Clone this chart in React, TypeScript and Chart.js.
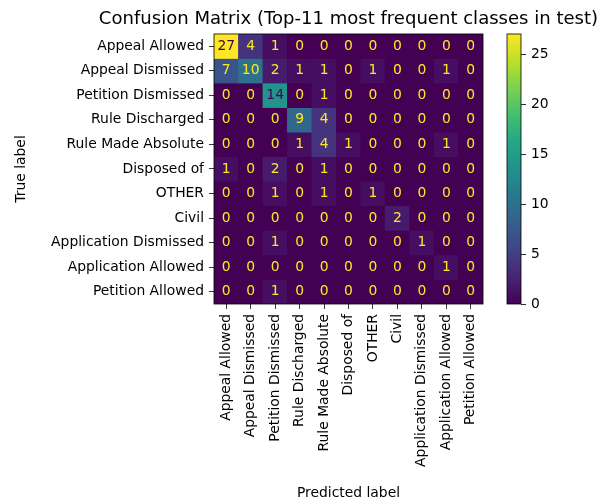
import React, { useEffect, useRef } from "react";
import { Chart, registerables } from "chart.js";

Chart.register(...registerables);

const TITLE = "Confusion Matrix (Top-11 most frequent classes in test)";
const X_TITLE = "Predicted label";
const Y_TITLE = "True label";

const CLASSES = [
  "Appeal Allowed",
  "Appeal Dismissed",
  "Petition Dismissed",
  "Rule Discharged",
  "Rule Made Absolute",
  "Disposed of",
  "OTHER",
  "Civil",
  "Application Dismissed",
  "Application Allowed",
  "Petition Allowed",
];

const ROW_APPEAL_ALLOWED = [27, 4, 1, 0, 0, 0, 0, 0, 0, 0, 0];
const ROW_APPEAL_DISMISSED = [7, 10, 2, 1, 1, 0, 1, 0, 0, 1, 0];
const ROW_PETITION_DISMISSED = [0, 0, 14, 0, 1, 0, 0, 0, 0, 0, 0];
const ROW_RULE_DISCHARGED = [0, 0, 0, 9, 4, 0, 0, 0, 0, 0, 0];
const ROW_RULE_MADE_ABSOLUTE = [0, 0, 0, 1, 4, 1, 0, 0, 0, 1, 0];
const ROW_DISPOSED_OF = [1, 0, 2, 0, 1, 0, 0, 0, 0, 0, 0];
const ROW_OTHER = [0, 0, 1, 0, 1, 0, 1, 0, 0, 0, 0];
const ROW_CIVIL = [0, 0, 0, 0, 0, 0, 0, 2, 0, 0, 0];
const ROW_APPLICATION_DISMISSED = [0, 0, 1, 0, 0, 0, 0, 0, 1, 0, 0];
const ROW_APPLICATION_ALLOWED = [0, 0, 0, 0, 0, 0, 0, 0, 0, 1, 0];
const ROW_PETITION_ALLOWED = [0, 0, 1, 0, 0, 0, 0, 0, 0, 0, 0];

const MATRIX = [
  ROW_APPEAL_ALLOWED,
  ROW_APPEAL_DISMISSED,
  ROW_PETITION_DISMISSED,
  ROW_RULE_DISCHARGED,
  ROW_RULE_MADE_ABSOLUTE,
  ROW_DISPOSED_OF,
  ROW_OTHER,
  ROW_CIVIL,
  ROW_APPLICATION_DISMISSED,
  ROW_APPLICATION_ALLOWED,
  ROW_PETITION_ALLOWED,
];

const VMIN = 0;
const VMAX = 27;
const COLORBAR_TICKS = [0, 5, 10, 15, 20, 25];

const VIRIDIS = [
  "#440154", "#482475", "#414487", "#355f8d", "#2a788e", "#21918c",
  "#22a884", "#44bf70", "#7ad151", "#bddf26", "#fde725",
];

const FONT = "DejaVu Sans";
const FS = 13.89;
const TITLE_FS = 18.06;

function hexToRgb(h: string) {
  const n = parseInt(h.slice(1), 16);
  return [(n >> 16) & 255, (n >> 8) & 255, n & 255];
}

function viridis(t: number) {
  const tt = Math.max(0, Math.min(1, t));
  const pos = tt * (VIRIDIS.length - 1);
  const i = Math.min(VIRIDIS.length - 2, Math.floor(pos));
  const f = pos - i;
  const a = hexToRgb(VIRIDIS[i]);
  const b = hexToRgb(VIRIDIS[i + 1]);
  const c = a.map((v, k) => Math.round(v + (b[k] - v) * f));
  return `rgb(${c[0]},${c[1]},${c[2]})`;
}

const framePlugin = {
  id: "frame",
  afterDraw(chart: any) {
    const a = chart.chartArea;
    const ctx = chart.ctx;
    ctx.save();
    ctx.strokeStyle = "#000";
    ctx.lineWidth = 0.8;
    ctx.strokeRect(a.left, a.top, a.right - a.left, a.bottom - a.top);
    ctx.restore();
  },
};

const bgPlugin = {
  id: "cellbg",
  beforeDatasetsDraw(chart: any) {
    const a = chart.chartArea;
    const ctx = chart.ctx;
    ctx.save();
    ctx.fillStyle = VIRIDIS[0];
    ctx.fillRect(a.left, a.top, a.right - a.left, a.bottom - a.top);
    ctx.restore();
  },
};

// Centre the (wide) title over the axes like matplotlib, without squeezing it.
const titleWidenPlugin = {
  id: "titleWiden",
  afterLayout(chart: any) {
    const tb = chart.titleBlock;
    const a = chart.chartArea;
    if (!tb || !a) return;
    const cx = (a.left + a.right) / 2;
    const half = Math.min(cx, chart.width - cx);
    tb.left = cx - half;
    tb.right = cx + half;
    tb.width = tb.right - tb.left;
  },
};

const annotatePlugin = {
  id: "annot",
  afterDatasetsDraw(chart: any) {
    const ctx = chart.ctx;
    const xs = chart.scales.x;
    const ys = chart.scales.y;
    const thresh = (VMAX + VMIN) / 2;
    ctx.save();
    ctx.font = `${FS}px "${FONT}"`;
    ctx.textAlign = "center";
    ctx.textBaseline = "middle";
    MATRIX.forEach((row, r) => {
      row.forEach((v, c) => {
        ctx.fillStyle = v > thresh ? VIRIDIS[0] : VIRIDIS[VIRIDIS.length - 1];
        ctx.fillText(String(v), xs.getPixelForValue(c), ys.getPixelForValue(r));
      });
    });
    ctx.restore();
  },
};

export default function App() {
  const mainRef = useRef<HTMLCanvasElement>(null);
  const cbRef = useRef<HTMLCanvasElement>(null);

  useEffect(() => {
    Chart.defaults.font.family = FONT;
    Chart.defaults.font.size = FS;
    Chart.defaults.color = "#000";

    const tickGrid = {
      drawOnChartArea: false,
      drawTicks: true,
      tickLength: 5,
      color: "#000",
      lineWidth: 0.8,
      offset: false,
    };

    const main = new Chart(mainRef.current!, {
      type: "bar",
      data: {
        labels: CLASSES,
        datasets: MATRIX.map((row, r) => ({
          data: row.map(() => [r - 0.5, r + 0.5]),
          backgroundColor: row.map((v) => viridis((v - VMIN) / (VMAX - VMIN))),
          borderWidth: 0,
          grouped: false,
          barPercentage: 1,
          categoryPercentage: 1,
        })),
      } as any,
      options: {
        responsive: false,
        animation: false,
        devicePixelRatio: 1,
        layout: { padding: { left: 0, right: 128, top: 0, bottom: 0 } },
        plugins: {
          legend: { display: false },
          tooltip: { enabled: false },
          title: {
            display: true,
            text: TITLE,
            fullSize: false,
            color: "#000",
            font: { size: TITLE_FS, weight: "normal" },
            padding: { top: 8.7, bottom: 3.6 },
          },
        },
        scales: {
          x: {
            type: "category",
            offset: true,
            grid: tickGrid,
            border: { display: false },
            ticks: {
              minRotation: 90,
              maxRotation: 90,
              autoSkip: false,
              padding: 5,
              color: "#000",
            },
            title: {
              display: true,
              text: X_TITLE,
              color: "#000",
              padding: { top: 0, bottom: 2 },
            },
            afterFit: (s: any) => {
              s.height = 200;
            },
          },
          y: {
            type: "linear",
            reverse: true,
            min: -0.5,
            max: 10.5,
            afterBuildTicks: (s: any) => {
              s.ticks = CLASSES.map((_, i) => ({ value: i }));
            },
            grid: tickGrid,
            border: { display: false },
            ticks: {
              autoSkip: false,
              padding: 5,
              color: "#000",
              callback: (v: any) => CLASSES[Number(v)],
            },
            title: {
              display: true,
              text: Y_TITLE,
              color: "#000",
              padding: { top: 13, bottom: 0 },
            },
            afterFit: (s: any) => {
              s.width = 214;
            },
          },
        },
      } as any,
      plugins: [titleWidenPlugin, bgPlugin, annotatePlugin, framePlugin],
    });

    const cb = new Chart(cbRef.current!, {
      type: "bar",
      data: {
        labels: [""],
        datasets: [
          {
            data: [[VMIN, VMAX]],
            backgroundColor: (c: any) => {
              const a = c.chart.chartArea;
              if (!a) return VIRIDIS[0];
              const g = c.chart.ctx.createLinearGradient(0, a.bottom, 0, a.top);
              VIRIDIS.forEach((col, i) => g.addColorStop(i / (VIRIDIS.length - 1), col));
              return g;
            },
            borderWidth: 0,
            barPercentage: 1,
            categoryPercentage: 1,
          },
        ],
      } as any,
      options: {
        responsive: false,
        animation: false,
        devicePixelRatio: 1,
        layout: { padding: { left: 507, right: 50, top: 34, bottom: 200 } },
        plugins: {
          legend: { display: false },
          tooltip: { enabled: false },
          title: { display: false },
        },
        scales: {
          x: { display: false },
          y: {
            position: "right",
            min: VMIN,
            max: VMAX,
            afterBuildTicks: (s: any) => {
              s.ticks = COLORBAR_TICKS.map((v) => ({ value: v }));
            },
            grid: tickGrid,
            border: { display: false },
            ticks: { padding: 5, color: "#000" },
            afterFit: (s: any) => {
              s.width = 40;
            },
          },
        },
      } as any,
      plugins: [framePlugin],
    });

    return () => {
      main.destroy();
      cb.destroy();
    };
  }, []);

  const style: React.CSSProperties = {
    position: "fixed",
    left: 0,
    top: 0,
    width: 611,
    height: 504,
  };

  return (
    <div>
      <canvas ref={mainRef} width={611} height={504} style={style} />
      <canvas
        ref={cbRef}
        width={611}
        height={504}
        style={{ ...style, pointerEvents: "none" }}
      />
    </div>
  );
}
